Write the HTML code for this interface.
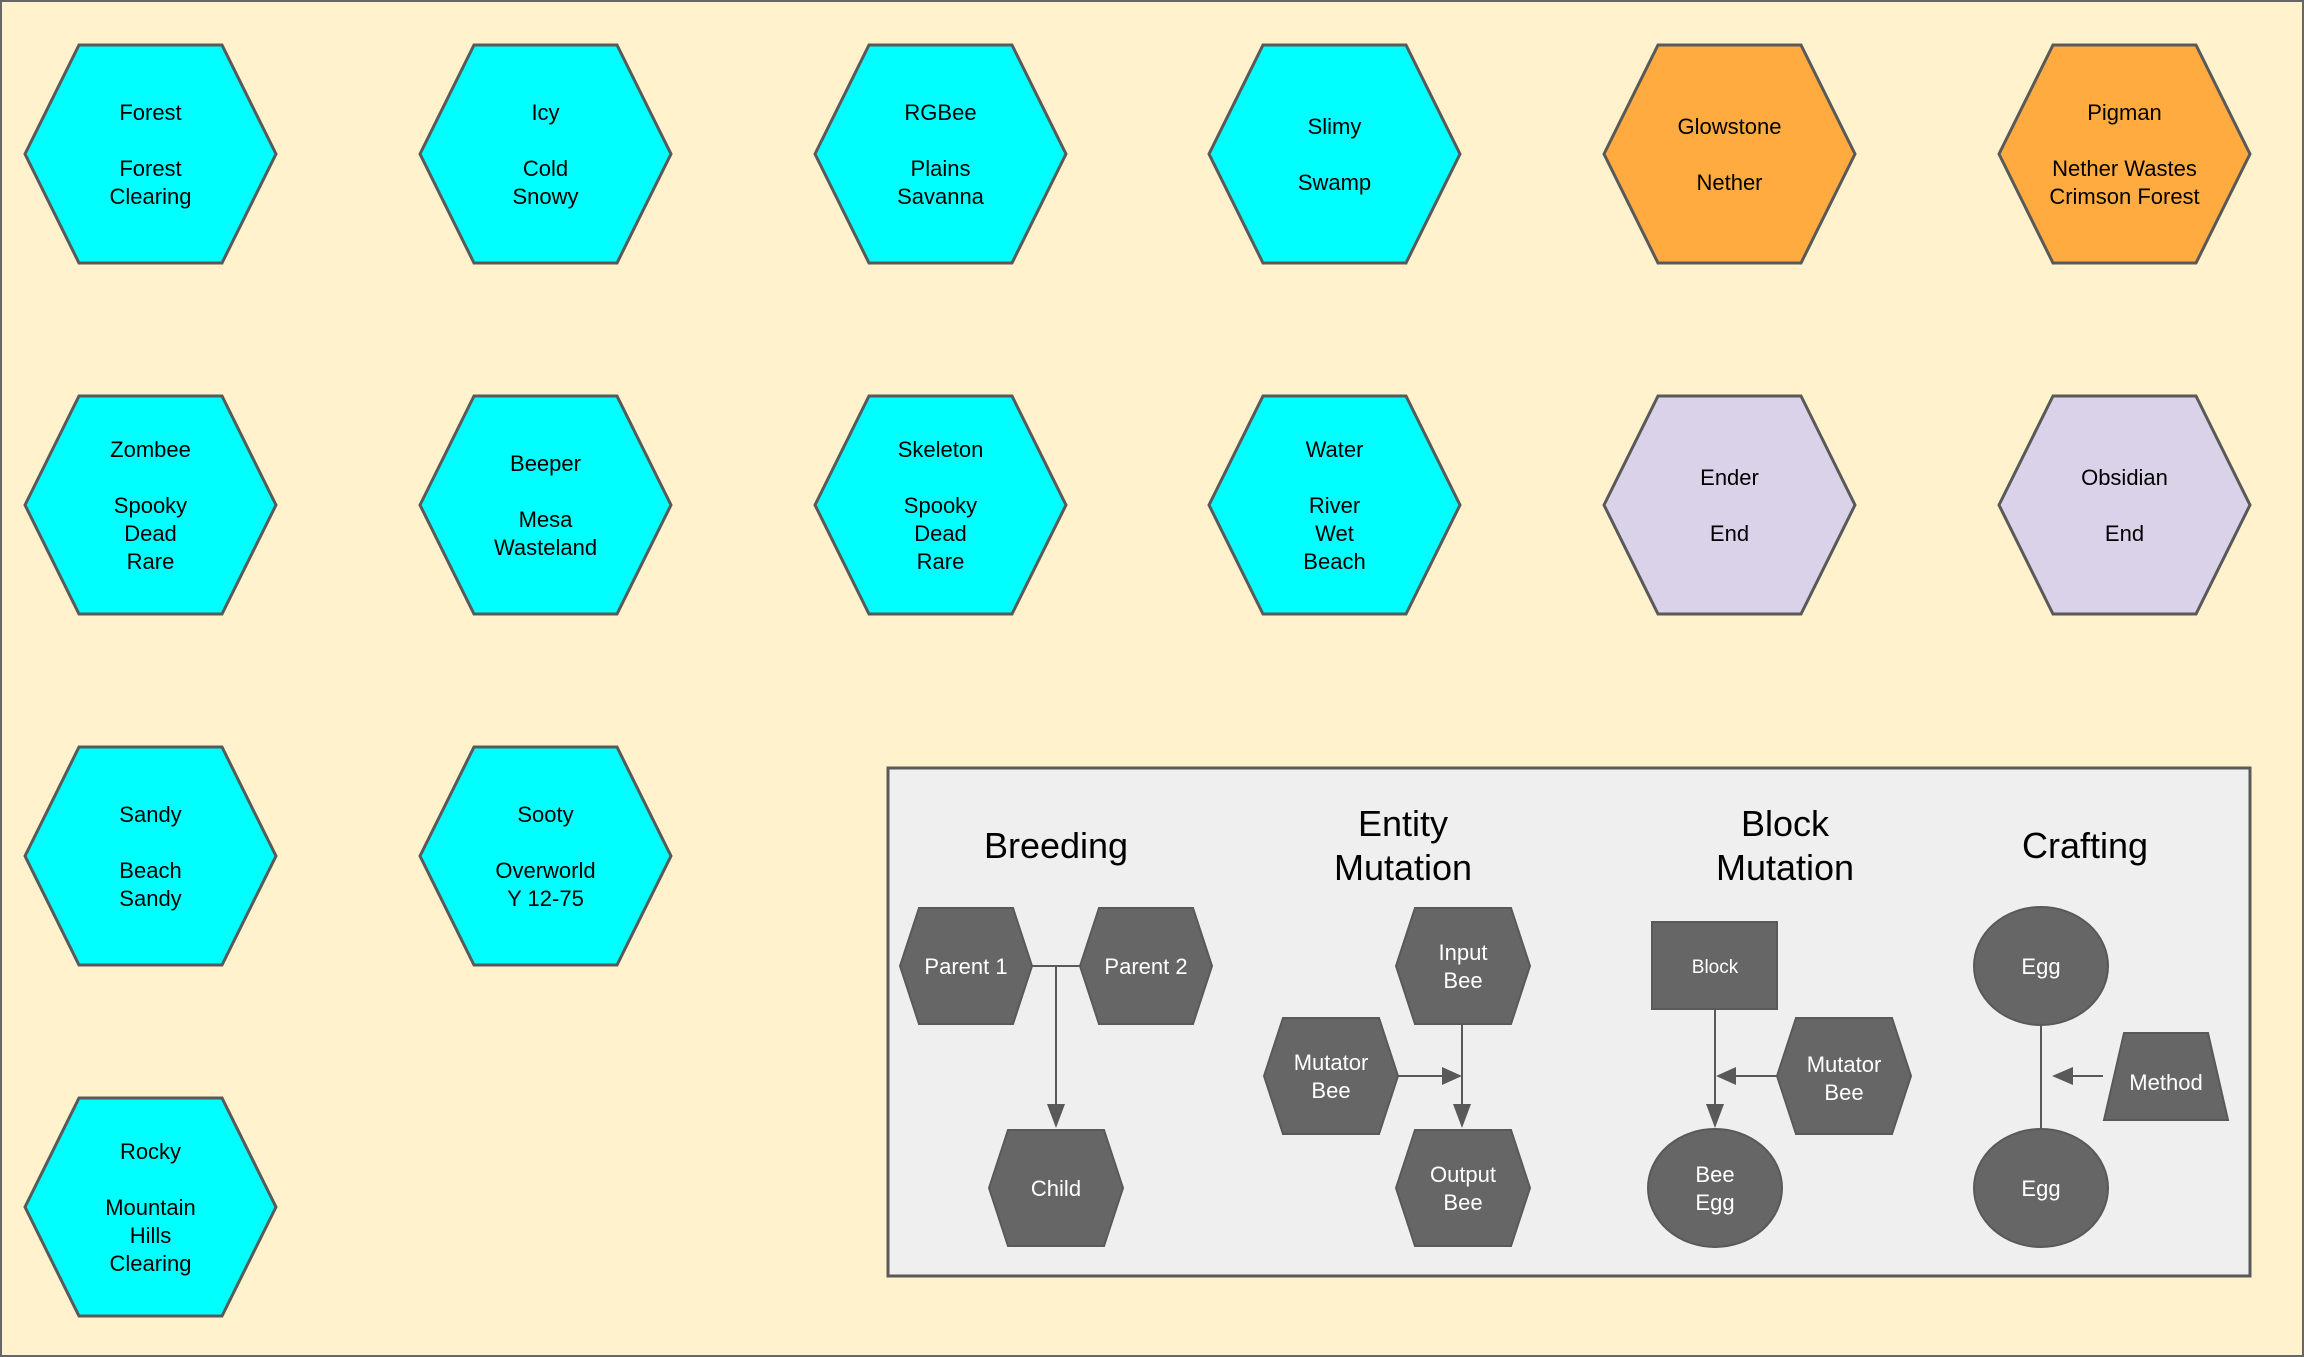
<!DOCTYPE html>
<html><head><meta charset="utf-8"><style>
html,body{margin:0;padding:0;background:#fff2cc;}
svg{display:block;}
text{font-family:"Liberation Sans",Arial,sans-serif;}
</style></head><body>
<svg width="2304" height="1357" viewBox="0 0 2304 1357" xmlns="http://www.w3.org/2000/svg">
<rect x="1" y="1" width="2302" height="1355" fill="#fff2cc" stroke="#666" stroke-width="2"/>

<g stroke="#595959" stroke-width="3" font-size="22" text-anchor="middle">
<g transform="translate(25,45)"><polygon points="0,109 54,0 197,0 251,109 197,218 54,218" fill="#00ffff"/><g stroke="none" fill="#000"><text x="125.5" y="75">Forest</text><text x="125.5" y="131">Forest</text><text x="125.5" y="159">Clearing</text></g></g>
<g transform="translate(420,45)"><polygon points="0,109 54,0 197,0 251,109 197,218 54,218" fill="#00ffff"/><g stroke="none" fill="#000"><text x="125.5" y="75">Icy</text><text x="125.5" y="131">Cold</text><text x="125.5" y="159">Snowy</text></g></g>
<g transform="translate(815,45)"><polygon points="0,109 54,0 197,0 251,109 197,218 54,218" fill="#00ffff"/><g stroke="none" fill="#000"><text x="125.5" y="75">RGBee</text><text x="125.5" y="131">Plains</text><text x="125.5" y="159">Savanna</text></g></g>
<g transform="translate(1209,45)"><polygon points="0,109 54,0 197,0 251,109 197,218 54,218" fill="#00ffff"/><g stroke="none" fill="#000"><text x="125.5" y="89">Slimy</text><text x="125.5" y="145">Swamp</text></g></g>
<g transform="translate(1604,45)"><polygon points="0,109 54,0 197,0 251,109 197,218 54,218" fill="#ffab40"/><g stroke="none" fill="#000"><text x="125.5" y="89">Glowstone</text><text x="125.5" y="145">Nether</text></g></g>
<g transform="translate(1999,45)"><polygon points="0,109 54,0 197,0 251,109 197,218 54,218" fill="#ffab40"/><g stroke="none" fill="#000"><text x="125.5" y="75">Pigman</text><text x="125.5" y="131">Nether Wastes</text><text x="125.5" y="159">Crimson Forest</text></g></g>
<g transform="translate(25,396)"><polygon points="0,109 54,0 197,0 251,109 197,218 54,218" fill="#00ffff"/><g stroke="none" fill="#000"><text x="125.5" y="61">Zombee</text><text x="125.5" y="117">Spooky</text><text x="125.5" y="145">Dead</text><text x="125.5" y="173">Rare</text></g></g>
<g transform="translate(420,396)"><polygon points="0,109 54,0 197,0 251,109 197,218 54,218" fill="#00ffff"/><g stroke="none" fill="#000"><text x="125.5" y="75">Beeper</text><text x="125.5" y="131">Mesa</text><text x="125.5" y="159">Wasteland</text></g></g>
<g transform="translate(815,396)"><polygon points="0,109 54,0 197,0 251,109 197,218 54,218" fill="#00ffff"/><g stroke="none" fill="#000"><text x="125.5" y="61">Skeleton</text><text x="125.5" y="117">Spooky</text><text x="125.5" y="145">Dead</text><text x="125.5" y="173">Rare</text></g></g>
<g transform="translate(1209,396)"><polygon points="0,109 54,0 197,0 251,109 197,218 54,218" fill="#00ffff"/><g stroke="none" fill="#000"><text x="125.5" y="61">Water</text><text x="125.5" y="117">River</text><text x="125.5" y="145">Wet</text><text x="125.5" y="173">Beach</text></g></g>
<g transform="translate(1604,396)"><polygon points="0,109 54,0 197,0 251,109 197,218 54,218" fill="#d9d2e9"/><g stroke="none" fill="#000"><text x="125.5" y="89">Ender</text><text x="125.5" y="145">End</text></g></g>
<g transform="translate(1999,396)"><polygon points="0,109 54,0 197,0 251,109 197,218 54,218" fill="#d9d2e9"/><g stroke="none" fill="#000"><text x="125.5" y="89">Obsidian</text><text x="125.5" y="145">End</text></g></g>
<g transform="translate(25,747)"><polygon points="0,109 54,0 197,0 251,109 197,218 54,218" fill="#00ffff"/><g stroke="none" fill="#000"><text x="125.5" y="75">Sandy</text><text x="125.5" y="131">Beach</text><text x="125.5" y="159">Sandy</text></g></g>
<g transform="translate(420,747)"><polygon points="0,109 54,0 197,0 251,109 197,218 54,218" fill="#00ffff"/><g stroke="none" fill="#000"><text x="125.5" y="75">Sooty</text><text x="125.5" y="131">Overworld</text><text x="125.5" y="159">Y 12-75</text></g></g>
<g transform="translate(25,1098)"><polygon points="0,109 54,0 197,0 251,109 197,218 54,218" fill="#00ffff"/><g stroke="none" fill="#000"><text x="125.5" y="61">Rocky</text><text x="125.5" y="117">Mountain</text><text x="125.5" y="145">Hills</text><text x="125.5" y="173">Clearing</text></g></g>
</g>

<rect x="888" y="768" width="1362" height="508" fill="#efefef" stroke="#595959" stroke-width="3"/>
<g font-size="36" text-anchor="middle" fill="#000">
<text x="1056" y="858">Breeding</text>
<text x="1403" y="836">Entity</text><text x="1403" y="880">Mutation</text>
<text x="1785" y="836">Block</text><text x="1785" y="880">Mutation</text>
<text x="2085" y="858">Crafting</text>
</g>

<g stroke="#595959" stroke-width="2" fill="none">
<polyline points="1032,966 1080,966"/>
<line x1="1056" y1="966" x2="1056" y2="1108"/>
<line x1="1462" y1="1024" x2="1462" y2="1108"/>
<line x1="1398" y1="1076" x2="1444" y2="1076"/>
<line x1="1715" y1="1009" x2="1715" y2="1108"/>
<line x1="1777" y1="1076" x2="1733" y2="1076"/>
<line x1="2041" y1="1024" x2="2041" y2="1128"/>
<line x1="2103" y1="1076" x2="2070" y2="1076"/>
</g>
<g fill="#595959">
<polygon points="1047,1104 1065,1104 1056,1128"/>
<polygon points="1453,1104 1471,1104 1462,1128"/>
<polygon points="1442,1067 1442,1085 1462,1076"/>
<polygon points="1706,1104 1724,1104 1715,1128"/>
<polygon points="1736,1067 1736,1085 1716,1076"/>
<polygon points="2073,1067 2073,1085 2052,1076"/>
</g>

<g fill="#666" stroke="#595959" stroke-width="2">
<polygon points="900,966 919,908 1013,908 1032,966 1013,1024 919,1024"/>
<polygon points="1080,966 1099,908 1193,908 1212,966 1193,1024 1099,1024"/>
<polygon points="989,1188 1008,1130 1104,1130 1123,1188 1104,1246 1008,1246"/>
<polygon points="1396,966 1415,908 1511,908 1530,966 1511,1024 1415,1024"/>
<polygon points="1264,1076 1283,1018 1379,1018 1398,1076 1379,1134 1283,1134"/>
<polygon points="1396,1188 1415,1130 1511,1130 1530,1188 1511,1246 1415,1246"/>
<rect x="1652" y="922" width="125" height="87"/>
<ellipse cx="1715" cy="1188" rx="67" ry="59"/>
<polygon points="1777,1076 1796,1018 1892,1018 1911,1076 1892,1134 1796,1134"/>
<ellipse cx="2041" cy="966" rx="67" ry="59"/>
<ellipse cx="2041" cy="1188" rx="67" ry="59"/>
<polygon points="2124,1033 2208,1033 2228,1120 2104,1120"/>
</g>
<g fill="#fff" font-size="22" text-anchor="middle">
<text x="966" y="974">Parent 1</text>
<text x="1146" y="974">Parent 2</text>
<text x="1056" y="1196">Child</text>
<text x="1463" y="960">Input</text><text x="1463" y="988">Bee</text>
<text x="1331" y="1070">Mutator</text><text x="1331" y="1098">Bee</text>
<text x="1463" y="1182">Output</text><text x="1463" y="1210">Bee</text>
<text x="1715" y="973" font-size="19">Block</text>
<text x="1715" y="1182">Bee</text><text x="1715" y="1210">Egg</text>
<text x="1844" y="1072">Mutator</text><text x="1844" y="1100">Bee</text>
<text x="2041" y="974">Egg</text>
<text x="2041" y="1196">Egg</text>
<text x="2166" y="1090">Method</text>
</g>
</svg>
</body></html>
